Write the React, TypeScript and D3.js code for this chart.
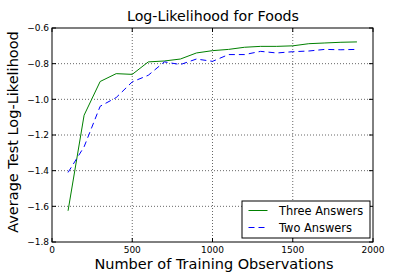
import React from 'react';
import * as d3 from 'd3';

const observations = [100, 200, 300, 400, 500, 600, 700, 800, 900, 1000, 1100, 1200, 1300, 1400, 1500, 1600, 1700, 1800, 1900];
const threeAnswers = [-1.625, -1.089, -0.9, -0.856, -0.86, -0.79, -0.785, -0.774, -0.74, -0.727, -0.72, -0.708, -0.703, -0.703, -0.7, -0.688, -0.684, -0.68, -0.678];
const twoAnswers = [-1.41, -1.266, -1.039, -0.99, -0.902, -0.865, -0.79, -0.805, -0.774, -0.787, -0.749, -0.749, -0.731, -0.74, -0.733, -0.729, -0.72, -0.722, -0.72];
const xTicks = [0, 500, 1000, 1500, 2000];
const yTicks = [-1.8, -1.6, -1.4, -1.2, -1.0, -0.8, -0.6];
const seriesNames = ['Three Answers', 'Two Answers'];

const FONT = 'DejaVu Sans, sans-serif';

const App: React.FC = () => {
  const width = 415;
  const height = 277;
  const margin = { top: 28, right: 42, bottom: 35, left: 52 };
  const innerW = width - margin.left - margin.right;
  const innerH = height - margin.top - margin.bottom;

  const x = d3.scaleLinear().domain([0, 2000]).range([0, innerW]);
  const y = d3.scaleLinear().domain([-1.8, -0.6]).range([innerH, 0]);

  const line = d3
    .line<number>()
    .x((_, i) => x(observations[i]))
    .y((d) => y(d));

  const fmt = (v: number) => v.toFixed(1).replace('-', '\u2212');

  const series = [
    { name: seriesNames[0], values: threeAnswers, color: '#008000', dash: undefined },
    { name: seriesNames[1], values: twoAnswers, color: '#0000ff', dash: '6,4' },
  ];

  return (
    <svg width={width} height={height} style={{ position: 'absolute', left: 0, top: 0 }}>
      <rect width={width} height={height} fill="#fff" />
      <text x={213} y={21} textAnchor="middle" fontFamily={FONT} fontSize={14.2}>
        Log-Likelihood for Foods
      </text>
      <g transform={`translate(${margin.left},${margin.top})`}>
        {xTicks.slice(1, -1).map((t) => (
          <line key={`gx${t}`} x1={x(t)} x2={x(t)} y1={0} y2={innerH} stroke="#000" strokeWidth={0.6} strokeDasharray="1,2" />
        ))}
        {yTicks.slice(1, -1).map((t) => (
          <line key={`gy${t}`} x1={0} x2={innerW} y1={y(t)} y2={y(t)} stroke="#000" strokeWidth={0.6} strokeDasharray="1,2" />
        ))}
        {series.map((s) => (
          <path key={s.name} d={line(s.values) || ''} fill="none" stroke={s.color} strokeWidth={1} strokeDasharray={s.dash} />
        ))}
        <rect x={0} y={0} width={innerW} height={innerH} fill="none" stroke="#000" strokeWidth={1} />
        {xTicks.map((t) => (
          <g key={`tx${t}`}>
            <line x1={x(t)} x2={x(t)} y1={innerH} y2={innerH - 4} stroke="#000" />
            <line x1={x(t)} x2={x(t)} y1={0} y2={4} stroke="#000" />
            <text x={x(t)} y={innerH + 11} textAnchor="middle" fontFamily={FONT} fontSize={9}>
              {t}
            </text>
          </g>
        ))}
        {yTicks.map((t) => (
          <g key={`ty${t}`}>
            <line x1={0} x2={4} y1={y(t)} y2={y(t)} stroke="#000" />
            <line x1={innerW} x2={innerW - 4} y1={y(t)} y2={y(t)} stroke="#000" />
            <text x={-3} y={y(t) + 3.3} textAnchor="end" fontFamily={FONT} fontSize={9}>
              {fmt(t)}
            </text>
          </g>
        ))}
        <g transform={`translate(${innerW - 131},${innerH - 41})`}>
          <rect x={0} y={0} width={128} height={37} fill="#fff" stroke="#000" strokeWidth={1} />
          {series.map((s, i) => (
            <g key={`lg${s.name}`} transform={`translate(0,${9.5 + i * 17})`}>
              <line x1={6.5} x2={25.5} y1={0} y2={0} stroke={s.color} strokeWidth={1} strokeDasharray={s.dash} />
              <text x={37} y={4} fontFamily={FONT} fontSize={11.4}>
                {s.name}
              </text>
            </g>
          ))}
        </g>
      </g>
      <text x={214} y={269} textAnchor="middle" fontFamily={FONT} fontSize={14.5}>
        Number of Training Observations
      </text>
      <text transform={`translate(18,${margin.top + innerH / 2 - 3}) rotate(-90)`} textAnchor="middle" fontFamily={FONT} fontSize={14.5}>
        Average Test Log-Likelihood
      </text>
    </svg>
  );
};

export default App;
